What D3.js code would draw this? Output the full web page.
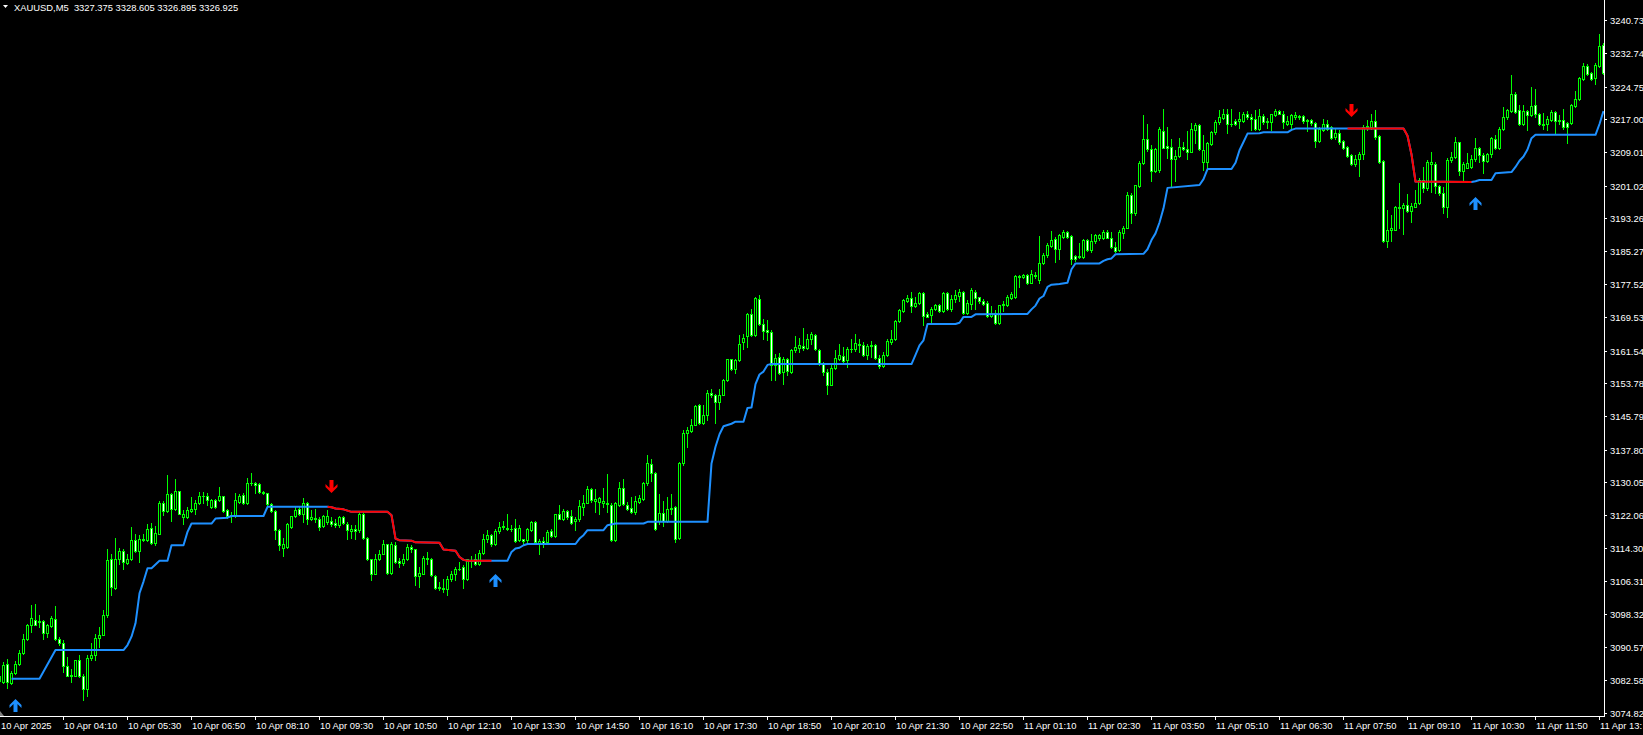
<!DOCTYPE html>
<html><head><meta charset="utf-8">
<script src="https://cdn.jsdelivr.net/npm/d3@7"></script>
<style>html,body{margin:0;padding:0;background:#000;overflow:hidden}svg{display:block}</style>
</head><body>
<svg id="c" width="1643" height="735"></svg>
<script>
const chartTitle = "XAUUSD,M5  3327.375 3328.605 3326.895 3326.925";

const opens = [
3082.3,3082.1,3086.5,3081.9,3084.3,3086.5,3089.1,3092.5,3095.9,3096.9,
3096.5,3096.7,3093.9,3095.5,3097.3,3092.5,3091.5,3085.9,3083.9,3083.7,
3087.3,3083.7,3080.5,3087.9,3088.7,3092.7,3093.5,3098.1,3111.5,3104.7,
3111.5,3113.6,3110.7,3111.5,3116.1,3113.5,3116.1,3116.1,3119.1,3115.5,
3117.7,3125.1,3123.1,3127.1,3123.5,3127.8,3121.7,3121.7,3123.1,3123.7,
3124.9,3126.7,3126.7,3124.1,3125.7,3125.7,3126.7,3123.3,3122.1,3121.9,
3125.3,3126.9,3124.9,3129.7,3129.9,3129.5,3127.7,3127.3,3124.7,3123.1,
3118.5,3114.3,3114.5,3119.3,3121.9,3123.5,3122.3,3125.1,3121.1,3121.5,
3121.3,3119.5,3120.5,3120.7,3120.3,3119.7,3121.7,3120.1,3118.3,3118.9,
3118.5,3122.5,3116.7,3111.5,3108.1,3111.7,3112.9,3115.1,3108.3,3114.9,
3111.1,3110.7,3111.5,3114.5,3113.9,3107.5,3108.1,3111.7,3111.7,3107.5,
3104.9,3104.5,3104.5,3106.7,3107.9,3109.1,3109.7,3106.7,3111.1,3111.5,
3110.3,3113.1,3116.3,3117.3,3115.1,3118.3,3119.3,3118.7,3118.9,3119.1,
3116.1,3116.3,3116.1,3118.5,3120.5,3115.1,3115.9,3115.7,3118.2,3117.1,
3122.3,3121.3,3123.1,3121.9,3120.7,3121.1,3124.1,3125.1,3128.3,3125.5,
3125.3,3124.9,3124.7,3124.5,3116.1,3124.5,3128.7,3124.5,3123.9,3122.9,
3125.3,3125.9,3129.7,3134.4,3132.2,3120.6,3122.6,3120.8,3123.5,3124.0,
3116.6,3134.6,3141.8,3142.2,3143.8,3148.4,3144.2,3146.2,3151.4,3150.8,
3149.2,3151.0,3154.4,3159.4,3157.0,3159.2,3163.6,3165.0,3170.4,3165.2,
3174.0,3167.8,3166.4,3166.0,3158.0,3160.0,3156.4,3159.4,3156.4,3161.6,
3162.2,3162.6,3162.2,3164.4,3165.2,3161.6,3158.2,3156.4,3153.4,3157.4,
3159.6,3160.2,3159.2,3161.8,3161.8,3162.8,3162.8,3160.4,3162.6,3162.8,
3159.8,3157.9,3160.4,3163.6,3164.2,3168.6,3171.0,3173.4,3174.2,3172.2,
3172.9,3175.4,3170.3,3170.0,3171.6,3172.4,3171.0,3175.4,3171.4,3174.0,
3174.6,3175.6,3170.6,3172.8,3175.6,3174.3,3173.5,3173.0,3169.7,3170.6,
3168.1,3172.4,3172.4,3174.2,3174.4,3179.1,3179.2,3179.6,3177.8,3179.4,
3178.4,3182.4,3184.5,3186.6,3188.2,3185.8,3188.8,3190.0,3188.9,3184.2,
3183.9,3184.0,3188.0,3185.6,3187.8,3188.4,3188.4,3190.0,3188.6,3186.4,
3185.6,3189.8,3191.0,3198.8,3194.4,3201.0,3206.4,3212.2,3209.7,3204.6,
3204.8,3214.1,3210.5,3210.3,3207.5,3208.1,3210.2,3209.8,3209.2,3214.4,
3215.5,3206.8,3206.8,3210.9,3213.8,3216.2,3217.3,3218.3,3215.9,3216.5,
3216.5,3216.6,3218.3,3217.4,3217.1,3214.5,3217.8,3216.5,3216.3,3217.9,
3218.9,3218.3,3215.7,3215.8,3217.4,3217.7,3217.7,3216.5,3216.7,3216.1,
3211.8,3214.3,3215.9,3215.0,3212.6,3213.7,3211.7,3210.3,3208.3,3206.1,
3207.3,3208.5,3215.1,3215.1,3216.5,3212.9,3206.9,3187.8,3190.4,3190.5,
3195.6,3195.6,3196.4,3195.0,3196.0,3196.8,3202.5,3200.4,3206.1,3206.1,
3200.9,3199.3,3196.0,3207.2,3207.8,3211.4,3204.6,3205.3,3205.4,3207.3,
3210.0,3208.4,3207.0,3208.6,3212.1,3210.0,3214.6,3217.4,3218.9,3223.1,
3219.1,3215.7,3218.9,3217.9,3220.3,3218.3,3215.8,3215.7,3216.7,3218.7,
3216.7,3216.7,3216.1,3216.1,3220.2,3221.8,3226.6,3229.7,3228.1,3226.7,
3229.7,3234.7];

const highs = [
3084.1,3086.9,3087.7,3084.7,3087.1,3089.7,3093.7,3096.1,3100.7,3100.9,
3098.1,3097.1,3096.1,3097.9,3100.3,3092.9,3092.1,3088.1,3085.3,3087.5,
3088.7,3084.1,3088.5,3091.5,3093.7,3095.3,3099.3,3114.1,3112.9,3116.7,
3114.3,3113.9,3112.9,3119.3,3117.5,3117.3,3117.7,3120.1,3120.3,3119.5,
3125.5,3125.5,3131.7,3127.3,3130.7,3127.9,3123.3,3124.1,3126.5,3125.7,
3127.7,3127.7,3127.5,3125.9,3125.9,3128.9,3126.8,3123.7,3122.9,3127.3,
3127.1,3127.3,3130.9,3132.1,3130.1,3129.7,3127.9,3127.5,3124.9,3123.3,
3118.7,3116.7,3120.3,3122.0,3124.1,3124.1,3126.1,3125.3,3123.3,3123.5,
3121.7,3122.1,3123.3,3121.7,3121.3,3121.9,3121.9,3120.5,3119.7,3119.7,
3123.1,3122.9,3116.9,3111.7,3112.9,3113.7,3116.1,3115.3,3115.7,3115.7,
3111.9,3112.9,3115.1,3114.9,3114.1,3109.7,3112.3,3113.3,3111.9,3107.7,
3106.1,3106.9,3107.5,3108.7,3109.7,3110.9,3110.1,3111.7,3112.3,3112.7,
3113.7,3117.7,3118.5,3117.7,3118.9,3120.5,3120.7,3122.3,3119.7,3121.3,
3119.7,3116.5,3119.1,3120.7,3120.7,3116.5,3116.9,3118.5,3118.7,3122.5,
3124.5,3123.5,3123.3,3123.3,3121.7,3125.7,3126.9,3129.1,3128.7,3128.3,
3126.5,3128.5,3132.0,3124.9,3125.3,3130.1,3130.7,3125.3,3126.5,3126.7,
3126.9,3130.1,3136.5,3135.6,3132.4,3127.2,3125.6,3126.4,3127.2,3124.2,
3134.8,3142.6,3143.2,3145.2,3148.4,3148.8,3148.4,3152.0,3152.4,3151.2,
3152.4,3154.8,3159.6,3159.6,3159.4,3165.2,3165.4,3170.6,3171.6,3174.4,
3174.8,3169.0,3168.8,3166.4,3160.8,3161.0,3160.0,3159.8,3161.8,3165.0,
3164.6,3167.0,3165.6,3166.0,3165.4,3161.8,3158.8,3157.2,3158.0,3161.6,
3163.2,3162.4,3162.4,3164.4,3165.4,3164.4,3163.6,3163.0,3163.8,3163.0,
3160.4,3161.2,3164.2,3166.4,3168.9,3171.6,3174.0,3174.8,3175.6,3174.4,
3175.6,3175.6,3170.8,3172.0,3172.8,3172.6,3175.6,3175.6,3174.8,3176.0,
3176.2,3175.8,3173.6,3176.4,3176.0,3174.4,3173.8,3173.3,3172.2,3171.2,
3172.5,3173.3,3174.8,3175.6,3179.6,3179.6,3179.8,3179.8,3180.8,3180.4,
3189.0,3184.8,3187.2,3190.1,3188.8,3189.4,3190.4,3190.2,3189.2,3184.4,
3187.4,3188.2,3188.2,3189.4,3189.4,3189.4,3190.4,3190.4,3190.0,3187.5,
3190.4,3191.4,3199.6,3199.2,3201.3,3207.0,3217.9,3215.7,3210.8,3210.0,
3215.2,3219.4,3215.2,3212.2,3209.5,3212.5,3211.5,3214.1,3216.0,3216.0,
3215.7,3213.1,3211.6,3214.1,3216.7,3219.1,3219.4,3219.4,3219.5,3217.1,
3218.7,3218.7,3218.9,3218.1,3219.1,3219.5,3218.3,3217.3,3218.3,3219.4,
3219.1,3218.9,3217.8,3218.3,3218.7,3217.9,3217.9,3217.1,3216.9,3216.3,
3215.1,3216.9,3216.7,3215.3,3214.7,3214.3,3211.9,3210.5,3208.6,3208.3,
3209.1,3215.5,3216.7,3218.2,3219.1,3213.1,3207.1,3195.2,3194.0,3196.1,
3201.7,3196.9,3199.0,3196.8,3200.1,3202.8,3205.6,3207.2,3209.2,3206.8,
3201.2,3200.8,3207.6,3209.2,3212.8,3211.6,3206.8,3208.8,3208.4,3212.4,
3210.2,3208.9,3208.8,3212.6,3213.1,3215.1,3219.8,3219.5,3227.5,3223.5,
3220.3,3220.3,3219.1,3224.7,3224.1,3218.5,3218.5,3217.7,3219.1,3218.9,
3217.9,3219.3,3216.3,3220.6,3223.8,3227.1,3230.3,3230.2,3228.3,3230.3,
3237.3,3235.3];

const lows = [
3081.9,3081.9,3080.7,3081.7,3084.1,3086.1,3088.9,3092.1,3094.1,3095.7,
3095.3,3092.5,3092.9,3095.3,3092.3,3090.9,3084.5,3083.5,3082.1,3083.5,
3083.3,3077.9,3078.9,3087.3,3087.5,3090.5,3093.3,3097.7,3102.9,3104.5,
3110.5,3109.3,3110.3,3111.3,3113.3,3110.9,3115.9,3115.9,3115.3,3114.9,
3117.5,3122.1,3122.9,3120.7,3123.3,3122.3,3120.1,3121.5,3122.9,3122.5,
3124.7,3124.9,3124.5,3123.9,3123.9,3125.5,3122.9,3121.5,3120.5,3121.7,
3124.9,3124.7,3124.7,3129.3,3127.3,3127.5,3127.1,3124.3,3122.9,3116.5,
3113.7,3112.3,3114.3,3119.1,3121.7,3122.1,3120.5,3120.1,3120.9,3120.5,
3118.5,3119.3,3120.1,3119.6,3119.3,3119.3,3119.9,3116.5,3116.7,3116.5,
3118.1,3116.5,3111.3,3106.5,3107.9,3111.3,3112.7,3108.1,3108.1,3110.7,
3109.7,3110.1,3111.3,3113.3,3105.3,3104.9,3107.9,3110.5,3107.5,3104.5,
3104.1,3103.7,3103.1,3106.3,3106.5,3108.9,3104.7,3106.5,3109.7,3110.1,
3110.1,3112.9,3115.7,3114.7,3114.9,3117.9,3118.9,3118.5,3118.3,3115.7,
3115.9,3115.3,3115.7,3118.3,3115.3,3112.9,3114.5,3115.3,3116.9,3116.9,
3121.1,3120.9,3121.3,3120.1,3118.5,3120.7,3122.1,3124.9,3125.3,3122.9,
3122.5,3124.1,3122.9,3115.9,3115.9,3124.3,3124.5,3123.3,3122.7,3122.5,
3124.9,3125.7,3129.3,3130.4,3118.6,3120.0,3119.6,3120.4,3122.4,3115.6,
3116.4,3134.2,3138.4,3142.0,3143.6,3144.0,3144.0,3144.8,3150.4,3144.2,
3147.6,3150.8,3154.2,3156.8,3156.2,3159.0,3162.0,3162.4,3165.0,3165.0,
3167.6,3164.2,3164.0,3154.4,3154.6,3155.8,3153.6,3155.6,3156.2,3161.2,
3161.2,3161.6,3162.0,3163.2,3161.6,3158.0,3155.6,3151.2,3153.2,3157.2,
3159.2,3158.8,3157.6,3161.2,3161.4,3161.2,3160.2,3159.4,3160.0,3159.6,
3157.4,3157.6,3160.2,3163.2,3164.0,3168.4,3170.8,3173.2,3170.8,3172.0,
3172.8,3167.6,3169.5,3168.0,3171.2,3170.8,3170.8,3171.2,3171.0,3173.2,
3173.4,3170.3,3170.4,3171.6,3171.6,3173.0,3172.4,3169.6,3169.6,3168.0,
3168.0,3170.9,3172.2,3174.0,3174.2,3176.8,3178.8,3177.4,3177.6,3178.8,
3177.6,3182.2,3183.9,3186.4,3182.8,3183.4,3188.4,3188.4,3182.2,3183.0,
3183.6,3183.8,3185.4,3185.2,3187.2,3188.0,3188.2,3188.4,3186.1,3185.2,
3185.3,3188.4,3190.8,3192.0,3194.1,3200.8,3206.2,3209.3,3202.1,3204.4,
3204.4,3210.0,3207.6,3200.8,3202.1,3208.0,3209.6,3207.5,3209.0,3211.2,
3209.6,3204.8,3205.2,3210.8,3213.5,3215.9,3217.1,3213.6,3215.4,3215.5,
3214.8,3216.3,3217.1,3214.3,3214.3,3214.3,3215.9,3214.8,3214.3,3217.8,
3218.2,3214.8,3215.5,3214.3,3217.1,3217.1,3216.1,3214.2,3215.5,3210.4,
3211.6,3214.2,3214.3,3212.1,3212.3,3211.1,3209.7,3207.9,3205.9,3205.7,
3203.3,3207.5,3214.3,3214.7,3212.3,3206.5,3187.6,3186.4,3187.8,3190.4,
3191.0,3189.4,3194.8,3192.4,3195.8,3196.6,3199.6,3200.1,3199.6,3199.3,
3198.8,3194.5,3193.6,3206.8,3207.6,3203.6,3202.4,3205.2,3205.2,3207.0,
3206.8,3204.1,3206.8,3208.0,3209.7,3209.7,3214.3,3217.1,3218.7,3218.5,
3215.5,3215.5,3214.3,3217.7,3217.5,3215.5,3214.7,3214.3,3216.6,3213.5,
3215.8,3214.5,3211.3,3215.9,3219.9,3221.5,3226.3,3227.5,3226.3,3225.4,
3229.5,3227.8];

const closes = [
3083.5,3086.3,3082.1,3084.3,3086.5,3089.1,3092.5,3095.9,3097.5,3095.9,
3096.7,3093.9,3095.7,3097.4,3092.5,3091.5,3085.9,3083.7,3083.7,3087.3,
3083.5,3080.5,3087.9,3088.7,3092.7,3093.5,3098.1,3111.3,3104.9,3111.5,
3113.5,3110.9,3111.7,3116.1,3113.5,3116.3,3116.3,3118.9,3115.5,3117.9,
3125.1,3123.1,3127.1,3123.6,3127.8,3122.5,3122.5,3123.3,3123.7,3125.1,
3126.7,3126.8,3125.7,3125.7,3124.1,3126.7,3123.1,3121.9,3121.9,3125.7,
3126.7,3124.9,3129.7,3129.9,3129.3,3127.7,3127.3,3124.7,3123.1,3118.5,
3114.9,3115.1,3119.9,3121.9,3123.3,3122.5,3125.1,3121.1,3121.7,3121.3,
3119.3,3121.9,3121.9,3120.1,3119.7,3121.7,3120.3,3118.5,3118.9,3118.3,
3122.5,3116.7,3111.5,3108.1,3111.7,3112.9,3115.1,3108.3,3115.1,3110.9,
3110.7,3111.5,3114.5,3113.9,3107.5,3108.3,3111.9,3111.9,3107.7,3104.7,
3104.7,3104.7,3106.9,3107.9,3109.1,3109.3,3106.7,3111.5,3111.3,3110.3,
3113.1,3116.5,3117.3,3115.1,3118.3,3119.3,3119.5,3119.1,3118.7,3115.9,
3119.1,3115.9,3118.7,3120.5,3115.7,3115.9,3115.1,3118.1,3117.1,3122.3,
3121.3,3123.1,3121.7,3120.3,3121.1,3124.3,3125.1,3128.3,3125.7,3125.9,
3126.1,3125.5,3125.1,3116.1,3124.9,3128.7,3124.7,3123.7,3122.9,3125.5,
3126.1,3129.7,3134.5,3132.2,3118.8,3122.6,3120.8,3123.6,3123.8,3116.4,
3134.6,3141.8,3142.4,3143.8,3148.2,3144.2,3146.2,3151.4,3150.8,3149.2,
3151.0,3154.4,3159.4,3157.0,3159.2,3163.2,3164.6,3170.4,3165.2,3174.2,
3167.8,3166.2,3166.0,3158.0,3159.8,3156.2,3159.6,3156.6,3161.6,3162.4,
3162.8,3162.2,3164.4,3165.4,3161.8,3158.2,3156.4,3153.4,3157.4,3159.8,
3160.4,3159.0,3161.8,3162.0,3163.4,3163.0,3160.4,3162.6,3162.8,3159.8,
3157.9,3160.4,3163.8,3164.4,3168.6,3171.2,3173.6,3174.2,3172.2,3173.0,
3175.4,3169.8,3169.6,3171.6,3172.4,3171.0,3175.4,3171.4,3174.0,3174.8,
3175.6,3170.6,3173.0,3176.0,3174.2,3173.4,3172.8,3169.8,3170.6,3168.1,
3172.4,3172.6,3174.4,3175.0,3179.4,3179.4,3179.6,3177.6,3179.8,3179.7,
3182.4,3184.5,3186.8,3188.0,3185.8,3189.2,3190.0,3188.8,3183.4,3183.4,
3184.2,3188.0,3185.6,3187.8,3189.2,3189.2,3190.0,3188.6,3186.4,3185.3,
3190.0,3191.0,3198.9,3194.4,3201.2,3206.4,3212.2,3209.7,3204.6,3209.8,
3214.6,3210.1,3210.1,3207.5,3208.1,3210.2,3209.8,3209.2,3214.6,3215.5,
3209.7,3209.6,3211.2,3213.8,3216.3,3217.4,3218.3,3215.7,3215.7,3215.9,
3216.9,3218.3,3217.4,3217.1,3214.5,3217.8,3216.2,3216.2,3218.1,3218.9,
3218.3,3216.3,3216.5,3217.9,3217.9,3217.4,3216.6,3216.7,3216.1,3211.8,
3214.5,3215.9,3214.7,3212.4,3213.7,3211.5,3210.1,3208.1,3206.1,3207.3,
3208.5,3215.1,3215.4,3216.5,3212.6,3206.7,3187.8,3190.5,3190.8,3195.8,
3196.0,3196.4,3195.0,3196.2,3196.8,3202.5,3200.4,3206.6,3206.6,3200.9,
3199.3,3196.0,3207.2,3207.8,3211.4,3204.6,3206.2,3206.4,3207.3,3210.0,
3208.4,3207.0,3208.6,3212.4,3210.0,3214.7,3217.5,3219.1,3223.0,3218.7,
3215.7,3218.9,3217.9,3220.1,3218.2,3215.7,3215.5,3216.9,3218.7,3216.6,
3216.6,3215.0,3215.0,3220.3,3221.9,3226.7,3229.7,3227.8,3226.6,3229.9,
3234.5,3228.1];

// trailing-stop indicator: vertices (bar index, price)
const trailBars = [3,10,14,31,32,33,34,35,36,37,38,40,42,43,46,47,48,53,54,57,58,66,67,82,83,84,86,87,88,97,98,99,100,103,104,110,111,114,115,116,117,123,127,128,129,130,131,132,144,145,146,147,151,152,154,161,162,177,178,179,180,181,183,184,186,187,188,189,190,191,192,193,228,229,230,231,232,239,240,241,243,244,257,258,259,260,261,262,263,265,267,268,269,275,276,277,278,279,286,287,288,289,290,291,292,300,301,302,308,309,310,311,312,315,316,322,323,324,337,351,352,353,354,368,369,370,373,374,378,379,380,381,382,383,384,399,400,401];
const trailVals = [3082.9,3082.9,3089.8,3089.8,3091.0,3093.0,3096.2,3103.4,3106.2,3109.4,3109.4,3111.2,3111.2,3114.9,3114.9,3118.1,3120.1,3120.1,3121.3,3121.5,3121.9,3121.9,3124.1,3124.1,3124.0,3123.7,3123.5,3123.2,3122.9,3122.9,3122.1,3116.5,3116.1,3116.0,3115.6,3115.5,3113.9,3113.6,3112.1,3111.4,3111.2,3111.2,3111.2,3113.3,3114.1,3114.3,3114.9,3115.2,3115.2,3116.5,3117.3,3118.5,3118.5,3119.7,3120.1,3120.1,3120.5,3120.5,3134.5,3138.5,3141.5,3143.4,3144.0,3144.5,3144.5,3147.8,3147.9,3153.5,3155.8,3156.5,3158.1,3158.3,3158.3,3160.5,3162.8,3164.0,3167.9,3167.9,3168.2,3169.6,3169.6,3170.2,3170.3,3171.4,3172.3,3174.0,3174.6,3176.8,3177.3,3177.5,3177.8,3181.0,3182.4,3182.4,3183.0,3183.4,3183.6,3184.6,3184.7,3185.8,3188.0,3189.6,3192.2,3195.6,3200.5,3201.2,3202.6,3205.0,3205.0,3206.5,3209.5,3211.5,3213.5,3213.6,3213.8,3213.8,3214.4,3214.7,3214.7,3214.7,3213.0,3208.5,3202.0,3201.9,3202.1,3202.4,3202.4,3204.0,3204.3,3205.5,3207.0,3208.0,3209.7,3212.4,3213.2,3213.2,3215.8,3218.9];
const downRanges = [[82,123],[337,368]];

const upArrowBars = [4,124,369];
const upArrowVals = [3078.0,3108.0,3198.2];
const downArrowBars = [83,338];
const downArrowVals = [3127.3,3217.4];

const priceTicks = [3240.73,3232.74,3224.75,3217.00,3209.01,3201.02,3193.26,3185.27,3177.52,3169.53,3161.54,3153.78,3145.79,3137.80,3130.05,3122.06,3114.30,3106.31,3098.32,3090.57,3082.58,3074.82];

const firstDateLabel = "10 Apr 2025";
const timeLabels = ["10 Apr 04:10","10 Apr 05:30","10 Apr 06:50","10 Apr 08:10","10 Apr 09:30","10 Apr 10:50","10 Apr 12:10","10 Apr 13:30","10 Apr 14:50","10 Apr 16:10","10 Apr 17:30","10 Apr 18:50","10 Apr 20:10","10 Apr 21:30","10 Apr 22:50","11 Apr 01:10","11 Apr 02:30","11 Apr 03:50","11 Apr 05:10","11 Apr 06:30","11 Apr 07:50","11 Apr 09:10","11 Apr 10:30","11 Apr 11:50","11 Apr 13:"];
const timeLabelBars = [16,32,48,64,80,96,112,128,144,160,176,192,208,224,240,256,272,288,304,320,336,352,368,384,400];

// ---------- drawing ----------
const W = 1643, H = 735, plotR = 1604, plotB = 716;
const GREEN = "#00ff00", BLUE = "#1e90ff", RED = "#ff0000", FG = "#ffffff";
const FONT = "'Liberation Sans', Arial, sans-serif";
const FS = "9.4px";

const svg = d3.select("#c");
svg.append("rect").attr("width", W).attr("height", H).attr("fill", "#000");

const nBars = Math.min(opens.length, highs.length, lows.length, closes.length);
const x = d3.scaleLinear().domain([0, 401]).range([-1, 1603]);
const y = d3.scaleLinear().domain([3074.0, 3245.5]).range([plotB, 0]);

svg.append("clipPath").attr("id", "plotclip").append("rect")
  .attr("x", 0).attr("y", 0).attr("width", plotR).attr("height", plotB);
const plot = svg.append("g").attr("clip-path", "url(#plotclip)").attr("shape-rendering", "crispEdges");

const bars = d3.range(nBars).map(i => {
  const o = opens[i], c = closes[i];
  return { i, o, c, h: Math.max(highs[i], o, c), l: Math.min(lows[i], o, c) };
});

// wicks
plot.append("g").selectAll("rect").data(bars).join("rect")
  .attr("x", d => Math.round(x(d.i)))
  .attr("y", d => Math.round(y(d.h)))
  .attr("width", 1)
  .attr("height", d => Math.round(y(d.l)) - Math.round(y(d.h)) + 1)
  .attr("fill", GREEN);

// bodies (outline)
const bodyTop = d => Math.round(y(Math.max(d.o, d.c)));
const bodyBot = d => Math.round(y(Math.min(d.o, d.c)));
plot.append("g").selectAll("rect").data(bars).join("rect")
  .attr("x", d => Math.round(x(d.i)) - 1)
  .attr("y", bodyTop)
  .attr("width", 3)
  .attr("height", d => bodyBot(d) - bodyTop(d) + 1)
  .attr("fill", GREEN);
// body fill: bull black, bear white
plot.append("g").selectAll("rect").data(bars.filter(d => bodyBot(d) - bodyTop(d) >= 2)).join("rect")
  .attr("x", d => Math.round(x(d.i)))
  .attr("y", d => bodyTop(d) + 1)
  .attr("width", 1)
  .attr("height", d => bodyBot(d) - bodyTop(d) - 1)
  .attr("fill", d => d.c >= d.o ? "#000" : "#fff");

// trailing line
const trail = trailBars.map((b, k) => [b, trailVals[k]]);
const line = d3.line().x(d => x(d[0]) + 0.5).y(d => y(d[1]));
const lineG = svg.append("g").attr("clip-path", "url(#plotclip)");
lineG.append("path").attr("d", line(trail)).attr("fill", "none")
  .attr("stroke", BLUE).attr("stroke-width", 2).attr("stroke-linejoin", "round");
downRanges.forEach(([a, b]) => {
  const seg = trail.filter(d => d[0] >= a && d[0] <= b);
  lineG.append("path").attr("d", line(seg)).attr("fill", "none")
    .attr("stroke", RED).attr("stroke-width", 2).attr("stroke-linejoin", "round");
});

// arrows
const upPath = "M0,0 L6,6 L6,9 L2,5 L2,13 L-2,13 L-2,5 L-6,9 L-6,6 Z";
const downPath = "M0,0 L6,-6 L6,-9 L2,-5 L2,-13 L-2,-13 L-2,-5 L-6,-9 L-6,-6 Z";
const arrG = svg.append("g").attr("clip-path", "url(#plotclip)");
upArrowBars.forEach((b, k) => {
  arrG.append("path").attr("d", upPath).attr("fill", BLUE)
    .attr("transform", `translate(${Math.round(x(b)) + 0.5},${Math.round(y(upArrowVals[k]))})`);
});
downArrowBars.forEach((b, k) => {
  arrG.append("path").attr("d", downPath).attr("fill", RED)
    .attr("transform", `translate(${Math.round(x(b)) + 0.5},${Math.round(y(downArrowVals[k]))})`);
});

// axes frame
const axG = svg.append("g").attr("shape-rendering", "crispEdges");
axG.append("rect").attr("x", plotR).attr("y", 0).attr("width", 1).attr("height", plotB + 1).attr("fill", FG);
axG.append("rect").attr("x", 0).attr("y", plotB).attr("width", plotR + 1).attr("height", 1).attr("fill", FG);

// price axis
priceTicks.forEach(v => {
  const yy = Math.round(y(v));
  axG.append("rect").attr("x", plotR + 1).attr("y", yy).attr("width", 2).attr("height", 1).attr("fill", FG);
  svg.append("text").attr("x", 1610).attr("y", yy + 3.5).text(v.toFixed(2))
    .attr("fill", FG).attr("font-family", FONT).attr("font-size", FS);
});

// time axis
svg.append("text").attr("x", 1).attr("y", 728.5).text(firstDateLabel)
  .attr("fill", FG).attr("font-family", FONT).attr("font-size", FS);
timeLabelBars.forEach((b, k) => {
  const xx = Math.round(x(b));
  axG.append("rect").attr("x", xx).attr("y", plotB + 1).attr("width", 1).attr("height", 3).attr("fill", FG);
  svg.append("text").attr("x", xx + 1).attr("y", 728.5).text(timeLabels[k])
    .attr("fill", FG).attr("font-family", FONT).attr("font-size", FS);
});
// small grey shift marker
svg.append("path").attr("d", "M0,711 L4,716 L0,716 Z").attr("fill", "#808080");

// title
svg.append("path").attr("d", "M3,5 L8,5 L5.5,8 Z").attr("fill", FG);
svg.append("text").attr("x", 14).attr("y", 11).text(chartTitle)
  .attr("fill", FG).attr("font-family", FONT).attr("font-size", FS)
  .style("white-space", "pre");
</script>
</body></html>
